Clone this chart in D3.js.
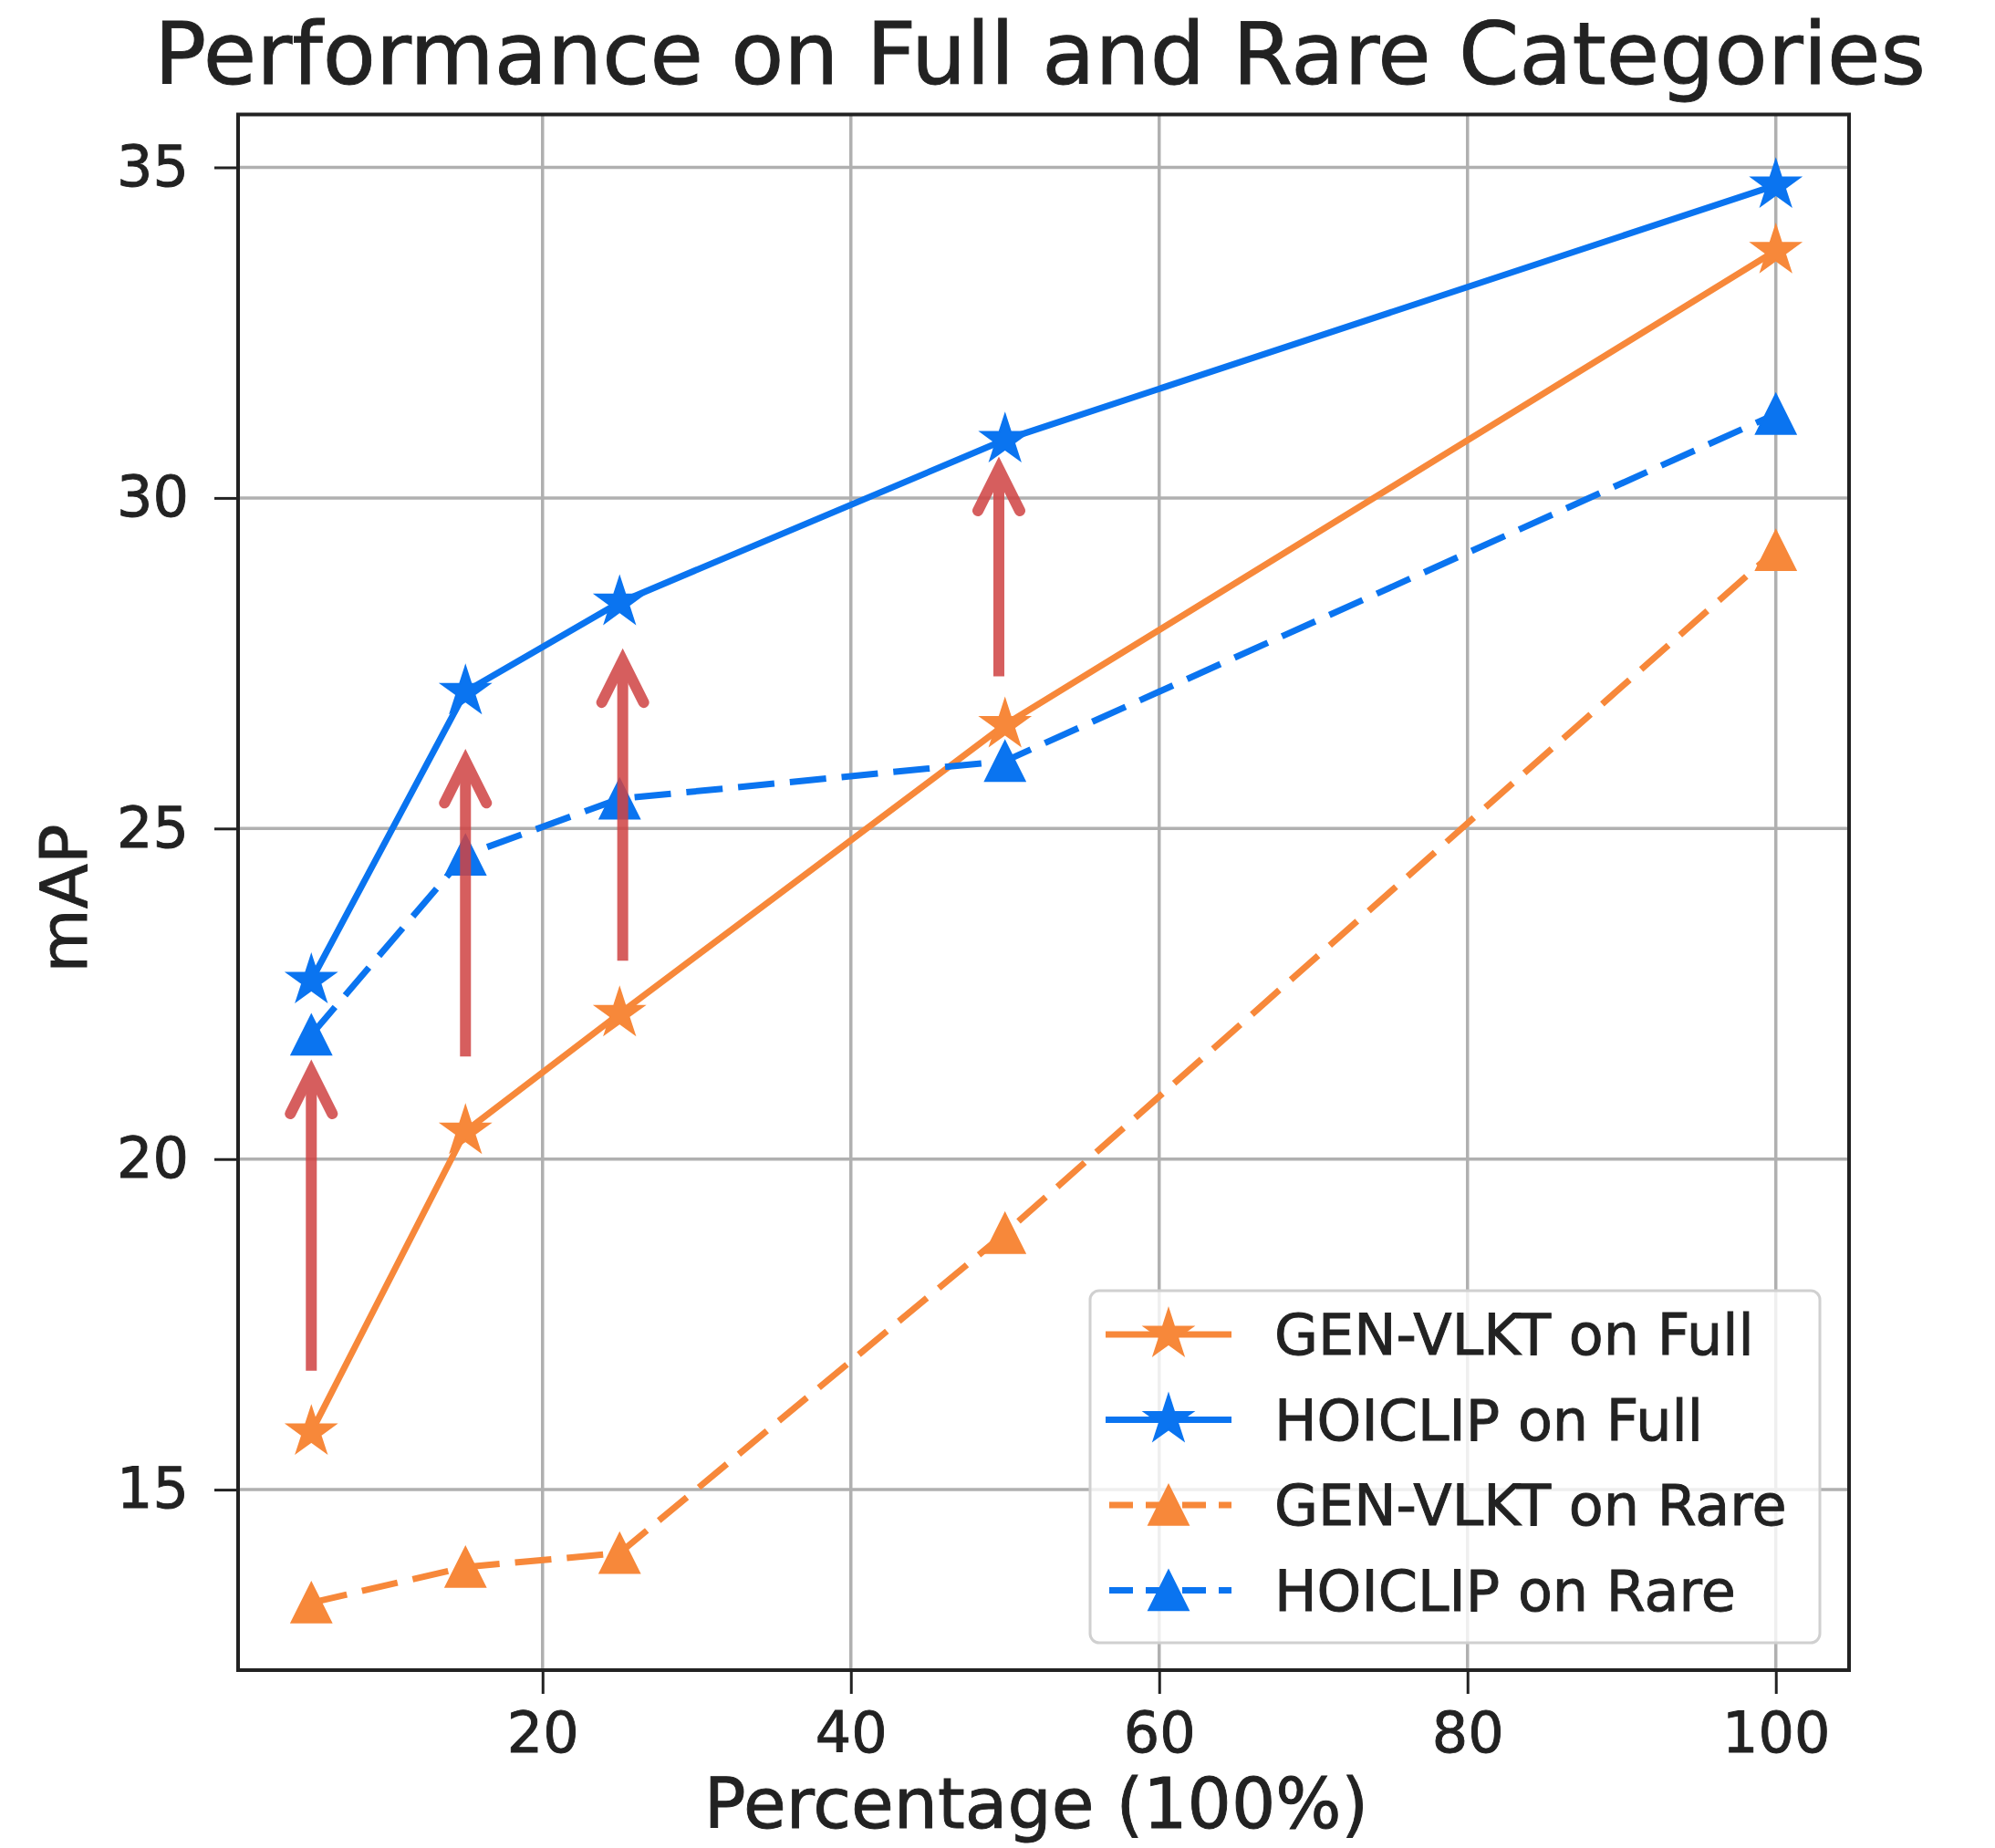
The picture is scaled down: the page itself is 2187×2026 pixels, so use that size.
<!DOCTYPE html>
<html>
<head>
<meta charset="utf-8">
<script src="https://cdn.jsdelivr.net/npm/d3@7"></script>
<style>
body{margin:0;background:#fff;}
text{font-family:"DejaVu Sans",sans-serif;fill:#222;stroke:#222;stroke-width:0.9px;}
</style>
</head>
<body>
<svg id="chart"></svg>
<script>
// values
var percents = [5, 15, 25, 50, 100];
var genFull = [15.87, 20.42, 22.2, 26.57, 33.74];
var hoiFull = [22.7, 27.07, 28.42, 30.88, 34.73];
var genRare = [13.29, 13.83, 14.04, 18.88, 29.21];
var hoiRare = [21.88, 24.6, 25.45, 26.02, 31.27];

var seriesNames = ["GEN-VLKT on Full", "HOICLIP on Full", "GEN-VLKT on Rare", "HOICLIP on Rare"];
var xTicks = [20, 40, 60, 80, 100];
var yTicks = [15, 20, 25, 30, 35];

// red annotation arrows (x, start value, tip value)
var arrowX = [5, 15, 25.2, 49.6];
var arrowFrom = [16.8, 21.55, 23.0, 27.3];
var arrowTo = [21.5, 26.2, 27.72, 30.62];

var orange = "#f7883a", blue = "#0a74f0", arrowCol = "rgb(208,67,67)";

function init(){
  var width = 2187, height = 2026;
  var left = 261, right = 2027, top = 125.5, bottom = 1831;

  var svg = d3.select("#chart").attr("width", width).attr("height", height);

  var series = [
    {name: seriesNames[0], vals: genFull, color: orange, dash: null, marker: "star"},
    {name: seriesNames[1], vals: hoiFull, color: blue, dash: null, marker: "star"},
    {name: seriesNames[2], vals: genRare, color: orange, dash: "40,17", marker: "tri"},
    {name: seriesNames[3], vals: hoiRare, color: blue, dash: "40,17", marker: "tri"}
  ];

  var x = d3.scaleLinear().domain([0.25, 104.75]).range([left, right]);
  var y = d3.scaleLinear().domain([12.27, 35.8]).range([bottom, top]);

  // matplotlib style '^' triangle
  var tri = {draw: function(ctx, size){
    var r = Math.sqrt(size) / 2;
    ctx.moveTo(0, -r); ctx.lineTo(r, r); ctx.lineTo(-r, r); ctx.closePath();
  }};
  var starSym = d3.symbol().type(d3.symbolStar).size(860);
  var triSym = d3.symbol().type(tri).size(1900);

  // grid
  var grid = svg.append("g");
  grid.selectAll(".gx").data(xTicks).enter().append("line")
      .attr("x1", d => x(d)).attr("x2", d => x(d))
      .attr("y1", top).attr("y2", bottom)
      .attr("stroke", "#b0b0b0").attr("stroke-width", 3.5);
  grid.selectAll(".gy").data(yTicks).enter().append("line")
      .attr("y1", d => y(d)).attr("y2", d => y(d))
      .attr("x1", left).attr("x2", right)
      .attr("stroke", "#b0b0b0").attr("stroke-width", 3.5);

  // lines + markers
  var line = d3.line().x((d, i) => x(percents[i])).y(d => y(d));
  series.forEach(function(s){
    svg.append("path").datum(s.vals)
       .attr("d", line).attr("fill", "none")
       .attr("stroke", s.color).attr("stroke-width", 7)
       .attr("stroke-dasharray", s.dash);
    svg.append("g").selectAll("path").data(s.vals).enter().append("path")
       .attr("d", s.marker == "star" ? starSym() : triSym())
       .attr("transform", (d, i) => "translate(" + x(percents[i]) + "," + y(d) + ")")
       .attr("fill", s.color).attr("stroke", s.color).attr("stroke-width", 2);
  });

  // axes
  var xAxis = svg.append("g").attr("transform", "translate(0," + bottom + ")")
      .call(d3.axisBottom(x).tickValues(xTicks).tickSize(26).tickPadding(20));
  var yAxis = svg.append("g").attr("transform", "translate(" + left + ",0)")
      .call(d3.axisLeft(y).tickValues(yTicks).tickSize(26).tickPadding(28));
  [xAxis, yAxis].forEach(function(a){
    a.select(".domain").remove();
    a.selectAll(".tick line").attr("stroke", "#222").attr("stroke-width", 3);
    a.selectAll(".tick text").attr("font-size", 62).attr("font-family", "DejaVu Sans").attr("fill", "#222");
  });

  svg.append("rect").attr("x", left).attr("y", top)
     .attr("width", right - left).attr("height", bottom - top)
     .attr("fill", "none").attr("stroke", "#222").attr("stroke-width", 4);

  // titles
  svg.append("text").attr("x", (left + right) / 2 - 4).attr("y", 92)
     .attr("text-anchor", "middle").attr("font-size", 95)
     .text("Performance on Full and Rare Categories");
  svg.append("text").attr("x", (left + right) / 2 - 8).attr("y", 2004)
     .attr("text-anchor", "middle").attr("font-size", 76)
     .text("Percentage (100%)");
  svg.append("text").attr("transform", "translate(95,985) rotate(-90)")
     .attr("text-anchor", "middle").attr("font-size", 72)
     .text("mAP");

  // legend
  var lg = svg.append("g");
  lg.append("rect").attr("x", 1195).attr("y", 1415).attr("width", 800).attr("height", 386)
    .attr("rx", 10).attr("fill", "#fff").attr("fill-opacity", 0.8)
    .attr("stroke", "#d0d0d0").attr("stroke-width", 3);
  series.forEach(function(s, i){
    var cy = 1463 + i * 93.5;
    lg.append("line").attr("x1", 1212).attr("x2", 1350).attr("y1", cy).attr("y2", cy)
      .attr("stroke", s.color).attr("stroke-width", 7)
      .attr("stroke-dasharray", s.dash ? "26,14" : null)
      .attr("stroke-dashoffset", s.dash ? -4 : null);
    lg.append("path").attr("d", s.marker == "star" ? starSym() : triSym())
      .attr("transform", "translate(1281," + cy + ")")
      .attr("fill", s.color).attr("stroke", s.color).attr("stroke-width", 2);
    lg.append("text").attr("x", 1397).attr("y", cy + 22).attr("font-size", 62).text(s.name);
  });

  // annotation arrows
  var ag = svg.append("g").attr("opacity", 0.85);
  arrowX.forEach(function(ax, i){
    var px = x(ax), tip = y(arrowTo[i]) + 13;
    ag.append("line").attr("x1", px).attr("x2", px)
      .attr("y1", y(arrowFrom[i])).attr("y2", tip + 4)
      .attr("stroke", arrowCol).attr("stroke-width", 12);
    ag.append("path")
      .attr("d", "M" + (px - 23) + "," + (tip + 46) + "L" + px + "," + tip + "L" + (px + 23) + "," + (tip + 46))
      .attr("fill", "none").attr("stroke", arrowCol).attr("stroke-width", 12)
      .attr("stroke-linecap", "round").attr("stroke-linejoin", "miter");
  });
}

init();
</script>
</body>
</html>
